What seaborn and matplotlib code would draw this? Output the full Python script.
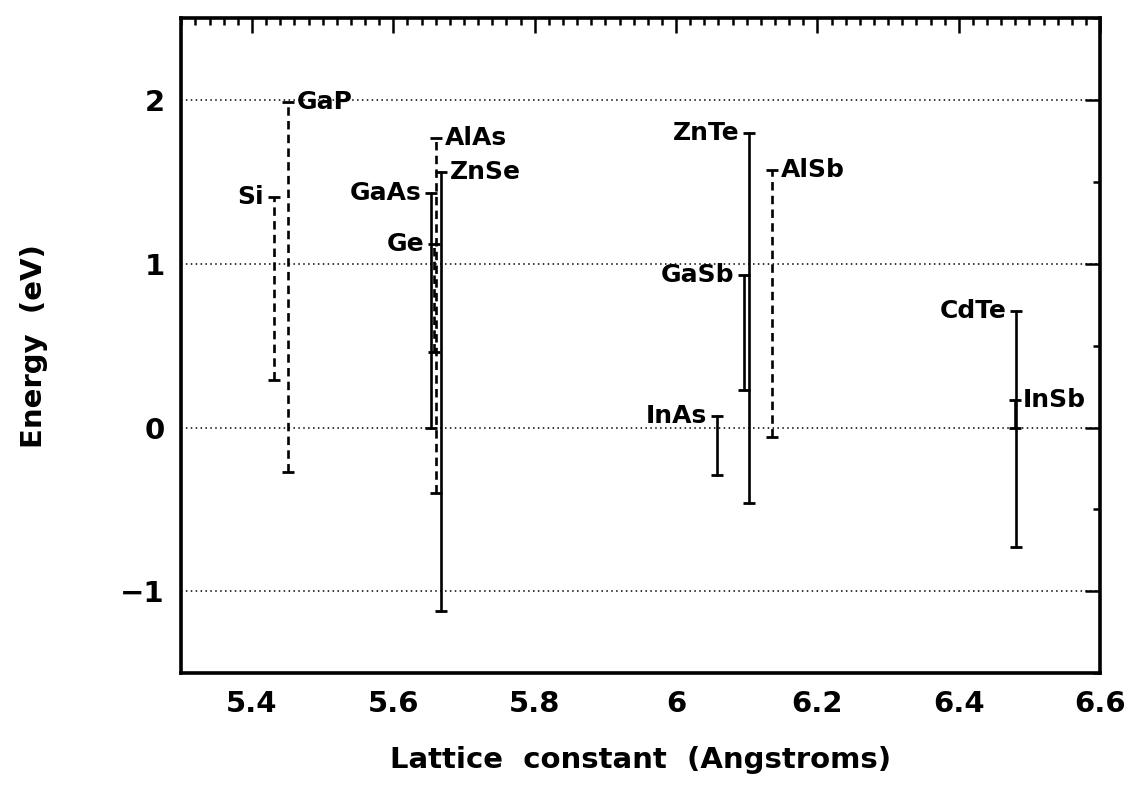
import matplotlib
matplotlib.use("Agg")
import matplotlib.pyplot as plt
from matplotlib.ticker import MultipleLocator, FuncFormatter
import seaborn as sns
import pandas as pd

# ---- data ----
materials = ["Si", "GaP", "GaAs", "Ge", "AlAs", "ZnSe", "InAs", "GaSb", "ZnTe", "AlSb", "CdTe", "InSb"]
lattice = [5.431, 5.451, 5.654, 5.658, 5.661, 5.668, 6.058, 6.096, 6.103, 6.136, 6.481, 6.479]
valence = [0.29, -0.27, 0.00, 0.46, -0.40, -1.12, -0.29, 0.23, -0.46, -0.06, -0.73, 0.00]
conduction = [1.41, 1.99, 1.43, 1.12, 1.77, 1.56, 0.07, 0.93, 1.80, 1.57, 0.71, 0.17]
gap_type = ["indirect", "indirect", "direct", "indirect", "indirect", "direct",
            "direct", "direct", "direct", "indirect", "direct", "direct"]
label_side = ["left", "right", "left", "left", "right", "right",
              "left", "left", "left", "right", "left", "right"]

x_ticks = [5.4, 5.6, 5.8, 6.0, 6.2, 6.4, 6.6]
y_ticks = [-1, 0, 1, 2]

rows = []
for m, a, v, c, g in zip(materials, lattice, valence, conduction, gap_type):
    rows.append({"material": m, "a": a, "E": v, "gap": g})
    rows.append({"material": m, "a": a, "E": c, "gap": g})
df = pd.DataFrame(rows)

sns.set_style("white")
plt.rcParams["font.family"] = ["DejaVu Sans"]
plt.rcParams["font.weight"] = "bold"
plt.rcParams["text.color"] = "black"
plt.rcParams["axes.labelcolor"] = "black"
plt.rcParams["xtick.color"] = "black"
plt.rcParams["ytick.color"] = "black"

fig = plt.figure(figsize=(11.33, 7.91), dpi=100)
ax = fig.add_axes([0.16, 0.149, 0.811, 0.828])

# horizontal dotted grid lines
for yv in y_ticks:
    ax.axhline(yv, color="black", linestyle=(0, (1.0, 2.2)), linewidth=1.1, zorder=1)

sns.lineplot(data=df, x="a", y="E", units="material", estimator=None,
             style="gap", dashes={"direct": "", "indirect": (3.2, 2.0)},
             color="black", linewidth=1.9, legend=False, sort=False, ax=ax, zorder=3)

# caps at band edges
ax.scatter(df["a"], df["E"], marker="_", s=70, color="black", linewidths=2.0, zorder=4)

for m, a, c, side in zip(materials, lattice, conduction, label_side):
    if side == "left":
        ax.annotate(m, (a, c), xytext=(-7, 0), textcoords="offset points",
                    ha="right", va="center", fontsize=18, fontweight="bold", color="black")
    else:
        ax.annotate(m, (a, c), xytext=(6, 0), textcoords="offset points",
                    ha="left", va="center", fontsize=18, fontweight="bold", color="black")

ax.set_xlim(5.3, 6.6)
ax.set_ylim(-1.5, 2.5)
ax.set_xticks(x_ticks)
ax.set_yticks(y_ticks)
ax.xaxis.set_minor_locator(MultipleLocator(0.02))
ax.yaxis.set_minor_locator(MultipleLocator(0.5))
ax.xaxis.set_major_formatter(FuncFormatter(lambda v, p: "%g" % round(v, 2)))
ax.yaxis.set_major_formatter(FuncFormatter(lambda v, p: ("%g" % v).replace("-", "\u2212")))
ax.tick_params(which="both", direction="in", top=True, right=True, colors="black",
               width=1.8)
ax.tick_params(which="major", length=11, labelsize=21, pad=12)
ax.tick_params(which="minor", length=5)
for lab in ax.get_xticklabels() + ax.get_yticklabels():
    lab.set_fontweight("bold")
for sp in ax.spines.values():
    sp.set_color("black")
    sp.set_linewidth(2.6)

ax.set_xlabel("Lattice  constant  (Angstroms)", fontsize=21, fontweight="bold", labelpad=20)
ax.set_ylabel("Energy  (eV)", fontsize=21, fontweight="bold", labelpad=52)

fig.savefig("out.png", dpi=100)
